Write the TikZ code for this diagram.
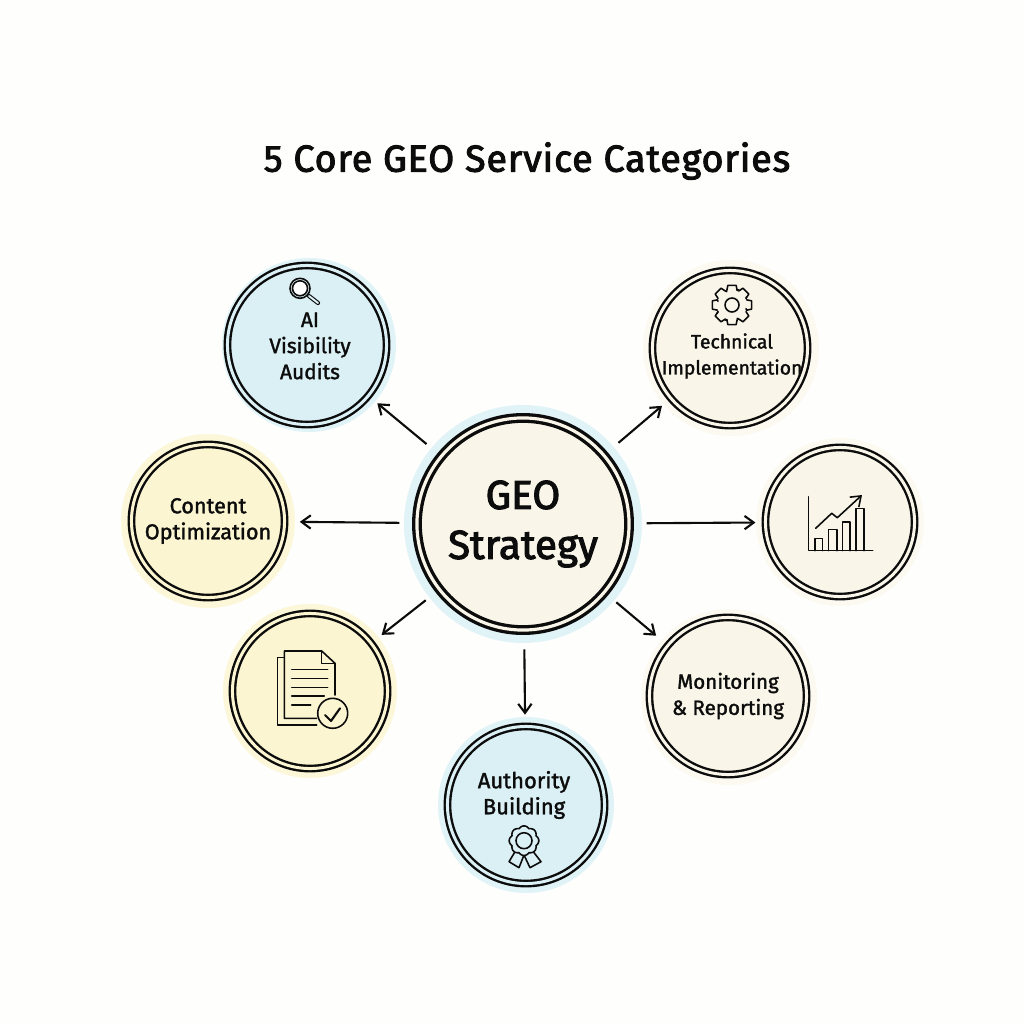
\documentclass[tikz,border=0pt]{standalone}
\usepackage{fontspec}
\setmainfont{Fira Sans}
\usetikzlibrary{arrows.meta}
\definecolor{paper}{HTML}{FEFEFD}
\definecolor{iceblue}{HTML}{DBF0F5}
\definecolor{icehalo}{HTML}{E0F3F7}
\definecolor{butter}{HTML}{FBF5D2}
\definecolor{butterhalo}{HTML}{FCF7D8}
\definecolor{cream}{HTML}{F9F6E9}
\definecolor{creamhalo}{HTML}{FBF9F0}
\definecolor{ink}{HTML}{0C0C0C}
\newcommand\lblfont[1]{\fontsize{#1}{7.4}\selectfont\addfontfeature{FakeBold=1.6}}
\begin{document}
\begin{tikzpicture}[x=0.01cm,y=-0.01cm,>={Straight Barb[length=2.6pt,width=3.8pt]},
  ring/.style={circle,draw=ink,line width=0.68pt,double distance=0.85pt,inner sep=0pt,align=center,font=\lblfont{5.85},text=ink},
  hubring/.style={circle,draw=ink,line width=0.95pt,double distance=0.9pt,inner sep=0pt,align=center,font=\fontsize{11.5}{14.2}\selectfont\addfontfeature{FakeBold=2.6},text=ink},
  tint/.style={fill=#1,double=#1},
  lbl/.style={inner sep=0pt,align=center,text=ink},
  link/.style={->,draw=ink,line width=0.6pt},
  icon/.style={draw=ink,line width=0.45pt,line join=round,line cap=round}]
\fill[paper] (0,0) rectangle (1024,1024);
\node[font=\fontsize{10.7}{13}\selectfont\addfontfeature{LetterSpace=2.3,FakeBold=2.6},text=ink,inner sep=0pt] (title) at (527,161) {5 Core GEO Service Categories};
% halos
\fill[icehalo] (523,524) circle (119);
\fill[icehalo] (309,345) circle (87);
\fill[creamhalo] (731,348) circle (88);
\fill[creamhalo] (840,522) circle (84);
\fill[butterhalo] (208,521) circle (87);
\fill[butterhalo] (310,691) circle (87);
\fill[creamhalo] (729,697) circle (88);
\fill[icehalo] (526,805) circle (88);
% circles
\node[hubring,tint=cream,minimum size=2.12cm] (hub) at (523,524) {GEO\\Strategy};
\node[ring,tint=iceblue,minimum size=1.59cm] (audits) at (307,345) {};
\node[ring,tint=cream,minimum size=1.55cm] (technical) at (730,348) {};
\node[ring,tint=cream,minimum size=1.49cm] (chart) at (840,522) {};
\node[ring,tint=butter,minimum size=1.53cm,font=\lblfont{6.15}] (content) at (208,521) {Content\\Optimization};
\node[ring,tint=butter,minimum size=1.55cm] (docs) at (310,691) {};
\node[ring,tint=cream,minimum size=1.57cm] (monitoring) at (728,696) {Monitoring\\\& Reporting};
\node[ring,tint=iceblue,minimum size=1.57cm] (authority) at (526,805) {};
\node[lbl,font=\lblfont{5.95}] (auditstext) at (310,346) {AI\\Visibility\\Audits};
\node[lbl,font=\lblfont{5.5}] (technicaltext) at (732,356) {Technical\\Implementation};
\node[lbl,font=\lblfont{6.25}] (authoritytext) at (524,795) {Authority\\Building};
% arrows
\draw[link,shorten <=5pt,shorten >=3pt] (hub)--(audits);
\draw[link,shorten <=5pt,shorten >=3pt] (hub)--(technical);
\draw[link,shorten <=4.5pt,shorten >=4pt] (hub)--(content);
\draw[link,shorten <=4.5pt,shorten >=2.5pt] (hub)--(chart);
\draw[link,shorten <=4.5pt,shorten >=3.5pt] (hub)--(docs);
\draw[link,shorten <=4pt,shorten >=4pt] (hub)--(monitoring);
\draw[link,shorten <=5pt,shorten >=3pt] (hub)--(authority);
% magnifier
\draw[icon,fill=iceblue] (300,288.3) circle (10);
\draw[icon,fill=white] (300,288.3) circle (7.5);
\draw[draw=ink,line width=0.32pt,double=iceblue,double distance=0.55pt,line cap=round] (309,296)--(318,303);
% gear
\begin{scope}[shift={(732,305)}]
\foreach \a in {0,45,...,315}{
  \draw[icon] (\a-22.5+3:15.5)--(\a-12:20)--(\a+12:20)--(\a+22.5-3:15.5);
  \draw[icon] (\a+19.5:15.5) arc[start angle=-\a-19.5,end angle=-\a-25.5,radius=15.5];
}
\draw[icon] (0,0) circle (7);
\end{scope}
% chart
\draw[icon] (808.3,496.7)--(808.3,550.7)--(872.7,550.7);
\draw[icon] (815,550.7)--(815,538.3)--(822.3,538.3)--(822.3,550.7);
\draw[icon] (828.3,550.7)--(828.3,529.3)--(836.7,529.3)--(836.7,550.7);
\draw[icon] (842.3,550.7)--(842.3,522)--(850,522)--(850,550.7);
\draw[icon] (856,550.7)--(856,508.3)--(864,508.3)--(864,550.7);
\draw[icon,->] (815.7,528.3)--(831.7,513.3)--(837.3,517.7)--(862,495);
% document
\draw[icon] (284.3,657.7)--(277.3,657.7)--(277.3,725)--(316.7,725);
\draw[icon] (316.7,718.3)--(284.3,718.3)--(284.3,651)--(321.7,651)--(335,663.3)--(335,695);
\draw[icon] (321.7,651)--(321.7,663.3)--(335,663.3);
\draw[icon] (291.7,669.3)--(327.7,669.3);
\draw[icon] (291.7,678.3)--(327.7,678.3);
\draw[icon] (291.7,687.3)--(327.7,687.3);
\draw[icon] (291.7,696)--(324.3,696);
\draw[icon] (291.7,705)--(310.7,705);
\draw[icon,fill=butter] (332.7,713.3) circle (15);
\draw[draw=ink,line width=0.6pt,line cap=round,line join=round] (325,715)--(331,721)--(340,708.3);
% rosette
\begin{scope}[shift={(524,840.7)}]
\draw[icon] (-9,11)--(-15,21)--(-5,27)--(0,14.3)--(6,27)--(17,21)--(9.3,11);
\draw[icon,fill=iceblue] plot[domain=0:360,samples=97,smooth] (\x:{13+1.8*abs(cos(4*\x))}) -- cycle;
\draw[icon] (0,0) circle (8);
\end{scope}
\end{tikzpicture}
\end{document}
